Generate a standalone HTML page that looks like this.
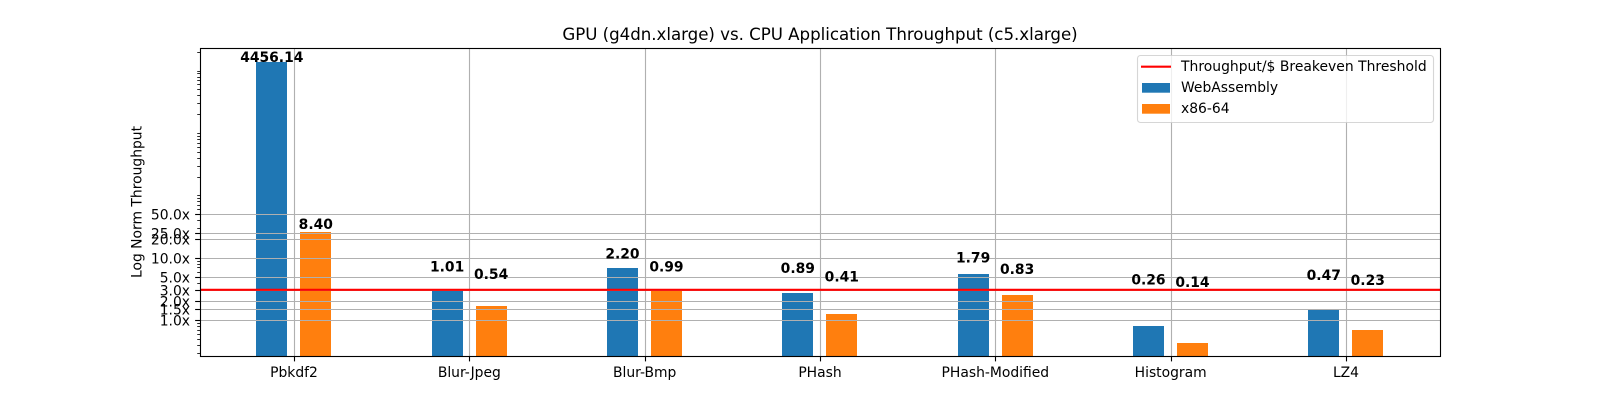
<!DOCTYPE html>
<html lang="en">
<head>
<meta charset="utf-8">
<title>GPU vs. CPU Application Throughput</title>
<style>
  html, body { margin: 0; padding: 0; background: #fff; }
  svg { display: block; }
  text { font-family: "DejaVu Sans", "Liberation Sans", sans-serif; fill: #000; }
</style>
</head>
<body>
<svg id="chart" xmlns="http://www.w3.org/2000/svg" width="1600" height="400" viewBox="0 0 1600 400">
  <rect x="0" y="0" width="1600" height="400" fill="#fff"/>
  <g id="bars"></g>
  <g id="grid"></g>
  <g id="threshold"></g>
  <g id="ticks"></g>
  <g id="values"></g>
  <rect x="200.5" y="48.5" width="1240" height="308" fill="none" stroke="#000" stroke-width="1.11"/>
  <text x="820" y="40" font-size="16.67" text-anchor="middle" textLength="515.3" lengthAdjust="spacing">GPU (g4dn.xlarge) vs. CPU Application Throughput (c5.xlarge)</text>
  <text transform="translate(141.5 202) rotate(-90)" font-size="13.89" text-anchor="middle">Log Norm Throughput</text>
  <g>
    <rect x="1137.5" y="55.5" width="296" height="67" rx="3" fill="#fff" fill-opacity="0.8" stroke="#ccc" stroke-opacity="0.8" stroke-width="1.11"/>
    <line x1="1141" x2="1171" y1="66.7" y2="66.7" stroke="#f00" stroke-width="2.08"/>
    <text x="1181" y="71" font-size="13.89" textLength="245.7" lengthAdjust="spacing">Throughput/$ Breakeven Threshold</text>
    <rect x="1142" y="83" width="28" height="9.7" fill="#1f77b4"/>
    <text x="1181" y="92" font-size="13.89">WebAssembly</text>
    <rect x="1142" y="104" width="28" height="9.7" fill="#ff7f0e"/>
    <text x="1181" y="113" font-size="13.89">x86-64</text>
  </g>
</svg>
<script>
const categories = ["Pbkdf2", "Blur-Jpeg", "Blur-Bmp", "PHash", "PHash-Modified", "Histogram", "LZ4"];
const wasmValues = [4456.14, 1.01, 2.20, 0.89, 1.79, 0.26, 0.47];
const x86Values = [8.40, 0.54, 0.99, 0.41, 0.83, 0.14, 0.23];
const majorTicks = [1, 1.5, 2, 3, 5, 10, 20, 25, 50];
const majorTickLabels = ["1.0x", "1.5x", "2.0x", "3.0x", "5.0x", "10.0x", "20.0x", "25.0x", "50.0x"];
const minorDecades = [0.1, 1, 10, 100, 1000, 10000];
const breakeven = 3.13;
const labelLift = 3;

const NS = "http://www.w3.org/2000/svg";
const PLOT = { left: 200, right: 1440, top: 48, bottom: 356 };
const xScale = function (i) { return 294.5 + 175.33 * i; };
const yScale = function (v) { return 320.7 - 62.4 * Math.log10(v); };
const crisp = function (p) { return Math.round(p - 0.5) + 0.5; };

function make(parentId, tag, props, text) {
  const el = document.createElementNS(NS, tag);
  Object.keys(props).forEach(function (k) { el.setAttribute(k, props[k]); });
  if (text !== undefined) el.textContent = text;
  document.getElementById(parentId).appendChild(el);
  return el;
}

/* vertical grid lines and x ticks */
categories.forEach(function (name, i) {
  const x = crisp(xScale(i));
  const grid = make("grid", "line", { x1: x, x2: x, y1: PLOT.top, y2: PLOT.bottom, stroke: "#b0b0b0", "stroke-width": 1.11 });
  
  
  const tick = make("ticks", "line", { x1: x, x2: x, y1: PLOT.bottom, y2: PLOT.bottom + 5.4, stroke: "#000", "stroke-width": 1.11 });
  
  
  const label = make("ticks", "text", { x: xScale(i) - 0.5, y: 377, "font-size": 13.89, "text-anchor": "middle" }, name);
  
  
});

/* horizontal grid lines and major y ticks */
majorTicks.forEach(function (v, i) {
  const y = crisp(yScale(v));
  const grid = make("grid", "line", { x1: PLOT.left, x2: PLOT.right, y1: y, y2: y, stroke: "#b0b0b0", "stroke-width": 1.11 });
  
  
  const tick = make("ticks", "line", { x1: PLOT.left - 4.86, x2: PLOT.left, y1: y, y2: y, stroke: "#000", "stroke-width": 1.11 });
  
  
  const label = make("ticks", "text", { x: 190, y: y + 4.8, "font-size": 13.89, "text-anchor": "end" }, majorTickLabels[i]);
  
  
});

/* minor log ticks */
minorDecades.forEach(function (d) {
  for (let m = 1; m < 10; m++) {
    const y = yScale(d * m);
    if (y < PLOT.top || y > PLOT.bottom) continue;
    const py = crisp(y);
    const tick = make("ticks", "line", { x1: PLOT.left - 2.78, x2: PLOT.left, y1: py, y2: py, stroke: "#000", "stroke-width": 0.83 });
    
    
  }
});

/* bars and printed value labels: bar height is the value scaled by the breakeven ratio */
function drawSeries(values, offset, color, barName, labelName) {
  values.forEach(function (v, i) {
    const height = v * breakeven;
    const left = Math.round(xScale(i) + offset);
    const right = Math.round(xScale(i) + offset + 31);
    const top = Math.round(yScale(height));
    const bar = make("bars", "rect", { x: left, y: top, width: right - left, height: PLOT.bottom - top, fill: color });
    
    
    const label = make("values", "text", { x: xScale(i) + offset + 15.5, y: yScale(height + labelLift), "font-size": 13.89, "font-weight": "bold", "text-anchor": "middle" }, v.toFixed(2));
    
    
  });
}
drawSeries(wasmValues, -38.2, "#1f77b4", "bar-webassembly", "value-label-webassembly");
drawSeries(x86Values, 5.8, "#ff7f0e", "bar-x86-64", "value-label-x86-64");

/* breakeven threshold */
const redLine = make("threshold", "line", { x1: PLOT.left, x2: PLOT.right, y1: yScale(breakeven), y2: yScale(breakeven), stroke: "#f00", "stroke-width": 2.08 });


</script>
</body>
</html>
